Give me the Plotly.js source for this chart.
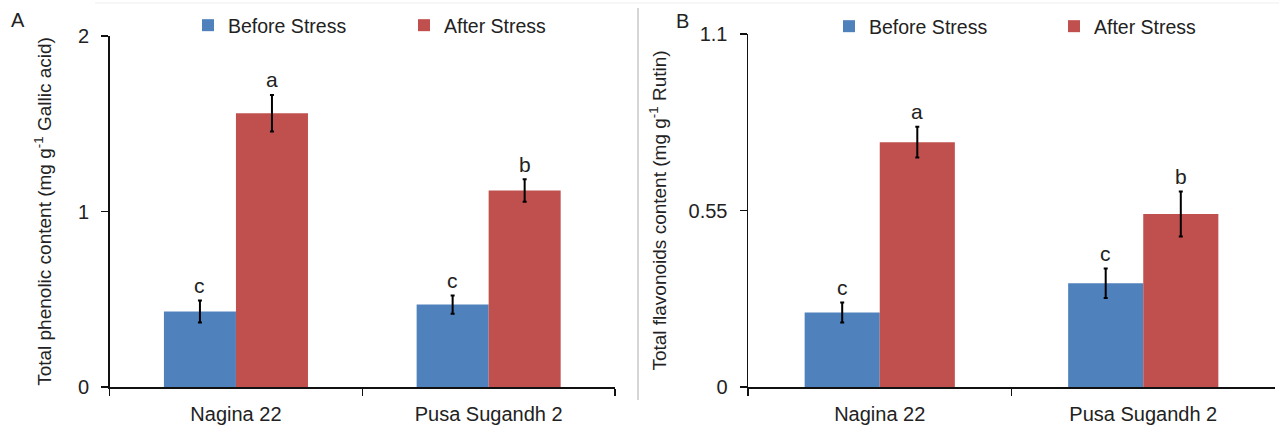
<!DOCTYPE html>
<html>
<head>
<meta charset="utf-8">
<script src="https://cdn.plot.ly/plotly-3.0.1.min.js"></script>
<style>html,body{margin:0;padding:0;background:#fff;}#chart{width:1279px;height:430px;}</style>
</head>
<body>
<div id="chart"></div>
<script>
// ---- data ----
var categories = ["Nagina 22", "Pusa Sugandh 2"];
var seriesNames = ["Before Stress", "After Stress"];
// Panel A: Total phenolic content (mg g-1 Gallic acid)
var phenolBefore = [0.43, 0.47];
var phenolBeforeErr = [0.063, 0.052];
var phenolAfter = [1.56, 1.12];
var phenolAfterErr = [0.104, 0.064];
var phenolBeforeLetters = ["c", "c"];
var phenolAfterLetters = ["a", "b"];
// Panel B: Total flavonoids content (mg g-1 Rutin)
var flavBefore = [0.232, 0.323];
var flavBeforeErr = [0.031, 0.046];
var flavAfter = [0.763, 0.539];
var flavAfterErr = [0.048, 0.070];
var flavBeforeLetters = ["c", "c"];
var flavAfterLetters = ["a", "b"];
var phenolTicks = [0, 1, 2];
var flavTicks = [0, 0.55, 1.1];

// ---- style ----
var FONT = "Liberation Sans, Arial, sans-serif";
var BLUE = "#4F81BD", RED = "#C0504D";
var BARGAP = 0.43;
var W = 1279, H = 430;

function barTrace(name, x, y, err, color, xa, ya, legend) {
  return {
    type: "bar", name: name, x: x, y: y, xaxis: xa, yaxis: ya,
    marker: {color: color, line: {width: 0}},
    error_y: {type: "data", array: err, visible: true, color: "#000", thickness: 2, width: 2},
    legend: legend, showlegend: true, hoverinfo: "skip"
  };
}

var data = [
  barTrace(seriesNames[0], categories, phenolBefore, phenolBeforeErr, BLUE, "x", "y", "legend"),
  barTrace(seriesNames[1], categories, phenolAfter, phenolAfterErr, RED, "x", "y", "legend"),
  barTrace(seriesNames[0], categories, flavBefore, flavBeforeErr, BLUE, "x2", "y2", "legend2"),
  barTrace(seriesNames[1], categories, flavAfter, flavAfterErr, RED, "x2", "y2", "legend2")
];

// significance letters placed above error bars (bar centre offset from bargap)
var off = (1 - BARGAP) / 4;
var annotations = [];
function addLetters(vals, errs, letters, sign, xref, yref) {
  for (var i = 0; i < vals.length; i++) {
    annotations.push({
      x: i + sign * off, y: vals[i] + errs[i], xref: xref, yref: yref,
      text: letters[i], showarrow: false, xanchor: "center", yanchor: "middle", yshift: 15,
      font: {family: FONT, size: 21, color: "#222"}
    });
  }
}
addLetters(phenolBefore, phenolBeforeErr, phenolBeforeLetters, -1, "x", "y");
addLetters(phenolAfter, phenolAfterErr, phenolAfterLetters, 1, "x", "y");
addLetters(flavBefore, flavBeforeErr, flavBeforeLetters, -1, "x2", "y2");
addLetters(flavAfter, flavAfterErr, flavAfterLetters, 1, "x2", "y2");

annotations.push({text: "A", x: 18 / W, y: 1 - 20 / H, xref: "paper", yref: "paper", showarrow: false,
  xanchor: "center", yanchor: "middle", font: {family: FONT, size: 20, color: "#222"}});
annotations.push({text: "B", x: 682 / W, y: 1 - 21 / H, xref: "paper", yref: "paper", showarrow: false,
  xanchor: "center", yanchor: "middle", font: {family: FONT, size: 20, color: "#222"}});

function xAxis(domain) {
  return {
    domain: domain, type: "category", showline: true, linecolor: "#111", linewidth: 1.5,
    ticks: "outside", tickson: "boundaries", ticklen: 7, tickwidth: 1.5, tickcolor: "#111",
    showgrid: false, zeroline: false, fixedrange: true, ticklabelstandoff: 8,
    tickfont: {family: FONT, size: 20, color: "#222"}
  };
}
function yAxis(domain, range, ticks, title, anchor, standoff) {
  return {
    domain: domain, range: range, tickvals: ticks, ticktext: ticks.map(String),
    showline: true, linecolor: "#111", linewidth: 1.5,
    ticks: "outside", ticklen: 7, tickwidth: 1.5, tickcolor: "#111",
    showgrid: false, zeroline: false, fixedrange: true, anchor: anchor, ticklabelstandoff: 8,
    tickfont: {family: FONT, size: 20, color: "#222"},
    title: {text: title, standoff: standoff, font: {family: FONT, size: 19, color: "#222"}}
  };
}

var layout = {
  width: W, height: H, margin: {l: 0, r: 0, t: 0, b: 0},
  paper_bgcolor: "#fff", plot_bgcolor: "#fff",
  barmode: "group", bargap: BARGAP, bargroupgap: 0,
  font: {family: FONT, color: "#222"},
  xaxis: xAxis([109.6 / W, 615 / W]),
  yaxis: yAxis([1 - 387 / H, 1 - 36 / H], [0, 2], phenolTicks,
    "Total phenolic content (mg g<sup>-1</sup> Gallic acid)", "x", 21),
  xaxis2: xAxis([748 / W, 1275 / W]),
  yaxis2: yAxis([1 - 387 / H, 1 - 34 / H], [0, 1.1], flavTicks,
    "Total flavonoids content (mg g<sup>-1</sup> Rutin)", "x2", 17),
  legend: {orientation: "h", x: 188 / W, y: 1 - 6 / H, xanchor: "left", yanchor: "top",
    bgcolor: "rgba(0,0,0,0)", entrywidth: 171, entrywidthmode: "pixels",
    font: {family: FONT, size: 19.5, color: "#222"}},
  legend2: {orientation: "h", x: 829 / W, y: 1 - 7 / H, xanchor: "left", yanchor: "top",
    bgcolor: "rgba(0,0,0,0)", entrywidth: 180, entrywidthmode: "pixels",
    font: {family: FONT, size: 19.5, color: "#222"}},
  annotations: annotations,
  shapes: [
    {type: "line", xref: "paper", yref: "paper", x0: 638 / W, x1: 638 / W, y0: 1 - 8 / H, y1: 1 - 400 / H,
      line: {color: "#c8c8c8", width: 1.5}},
    {type: "line", xref: "paper", yref: "paper", x0: 95 / W, x1: 1, y0: 1 - 3 / H, y1: 1 - 3 / H,
      line: {color: "#efefef", width: 1}}
  ]
};

Plotly.newPlot("chart", data, layout, {staticPlot: true, displayModeBar: false});
</script>
</body>
</html>
